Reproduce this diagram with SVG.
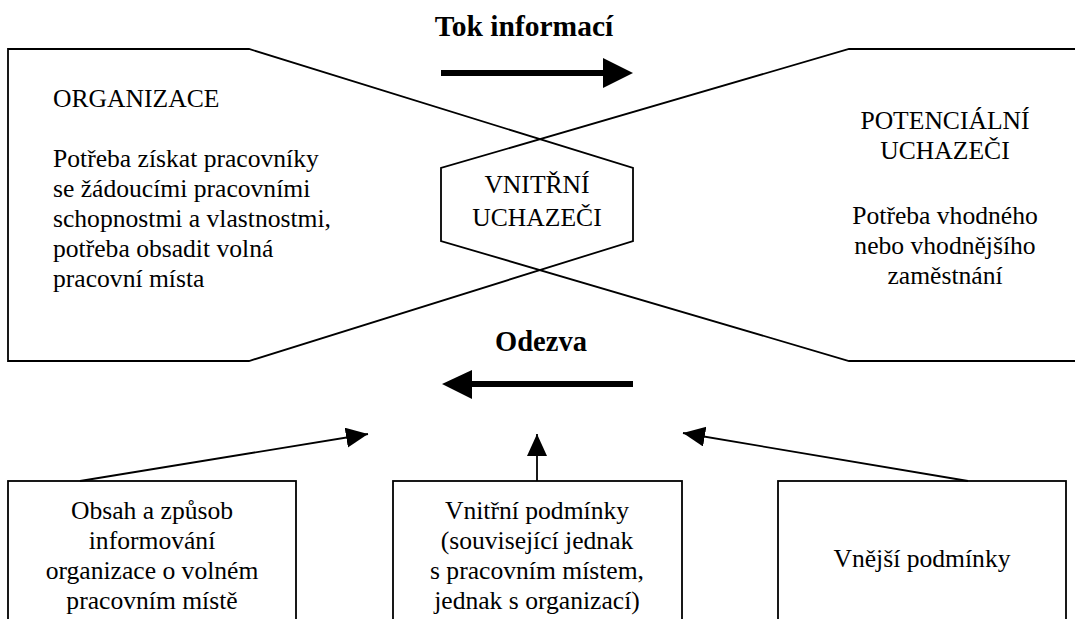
<svg xmlns="http://www.w3.org/2000/svg" width="1075" height="619" viewBox="0 0 1075 619">
<style>
.t{font-family:"Liberation Serif","Times New Roman",serif;font-size:25.6px;fill:#000}
.b{font-family:"Liberation Serif","Times New Roman",serif;font-weight:bold;fill:#000}
.m{text-anchor:middle}
.s{fill:none;stroke:#000;stroke-width:1.8}
.c{stroke:#000;stroke-width:1.8;fill:none}
.k{stroke:#000;stroke-width:6;fill:none}
</style>
<defs>
<marker id="ah" markerUnits="userSpaceOnUse" markerWidth="24" markerHeight="22" refX="22" refY="10" orient="auto">
<path d="M0,0 L22,10 L0,20 Z" fill="#000"/>
</marker>
</defs>
<rect width="1075" height="619" fill="#fff"/>
<g id="organizace">
<polygon class="s" points="8,49 249,49 633,168 633,241 249,361 8,361"/>
<text class="t" x="53" y="107">ORGANIZACE</text>
<text class="t" x="53" y="167">Potřeba získat pracovníky</text>
<text class="t" x="53" y="197">se žádoucími pracovními</text>
<text class="t" x="53" y="227">schopnostmi a vlastnostmi,</text>
<text class="t" x="53" y="257">potřeba obsadit volná</text>
<text class="t" x="53" y="287">pracovní místa</text>
</g>
<g id="potencialni">
<polygon class="s" points="1085,49 849,49 441,168 441,241 849,361 1085,361"/>
<text class="t m" x="945" y="129">POTENCIÁLNÍ</text>
<text class="t m" x="945" y="159">UCHAZEČI</text>
<text class="t m" x="945" y="224">Potřeba vhodného</text>
<text class="t m" x="945" y="254">nebo vhodnějšího</text>
<text class="t m" x="945" y="284">zaměstnání</text>
</g>
<g id="vnitrni">
<text class="t m" x="537" y="193">VNITŘNÍ</text>
<text class="t m" x="537" y="226">UCHAZEČI</text>
</g>
<g id="tok">
<text class="b m" x="524" y="36" font-size="29.5">Tok informací</text>
</g>
<g id="odezva">
<text class="b m" x="541" y="351" font-size="28.5">Odezva</text>
</g>
<g id="box1">
<rect class="s" x="8" y="481" width="288" height="150"/>
<text class="t m" x="152" y="519">Obsah a způsob</text>
<text class="t m" x="152" y="549">informování</text>
<text class="t m" x="152" y="579">organizace o volném</text>
<text class="t m" x="152" y="609">pracovním místě</text>
</g>
<g id="box2">
<rect class="s" x="393" y="481" width="289" height="150"/>
<text class="t m" x="537" y="519">Vnitřní podmínky</text>
<text class="t m" x="537" y="549">(související jednak</text>
<text class="t m" x="537" y="579">s pracovním místem,</text>
<text class="t m" x="537" y="609">jednak s organizací)</text>
</g>
<g id="box3">
<rect class="s" x="778" y="481" width="288" height="150"/>
<text class="t m" x="922" y="567">Vnější podmínky</text>
</g>
<g id="connectors">
<line class="k" x1="441" y1="73" x2="606" y2="73"/>
<polygon points="603,58 633,73 603,88" fill="#000"/>
<line class="k" x1="633" y1="384" x2="469" y2="384"/>
<polygon points="472,370 442,384 472,399" fill="#000"/>
<line class="c" x1="80" y1="481" x2="368" y2="434" marker-end="url(#ah)"/>
<line class="c" x1="537" y1="481" x2="537" y2="434" marker-end="url(#ah)"/>
<line class="c" x1="968" y1="481" x2="683" y2="433" marker-end="url(#ah)"/>
</g>
</svg>
